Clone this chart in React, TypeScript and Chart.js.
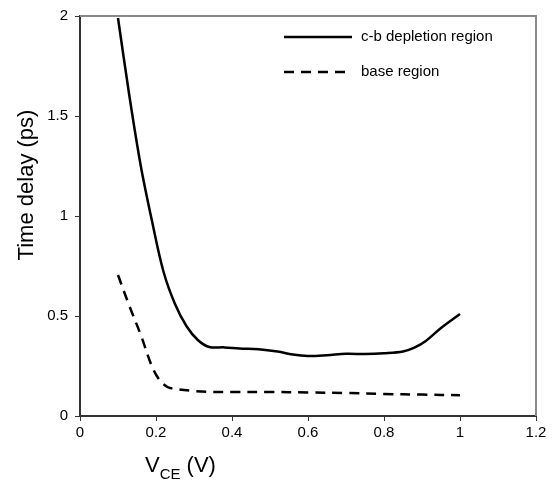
import React, { useEffect, useRef } from "react";
import { Chart, registerables } from "chart.js";

Chart.register(...registerables);

const solidLabel = "c-b depletion region";
const dashedLabel = "base region";
const yTitle = "Time delay (ps)";
const xTitleMain = "V";
const xTitleSub = "CE";
const xTitleUnit = " (V)";

const xSolid = [0.1, 0.13, 0.16, 0.19, 0.22, 0.25, 0.28, 0.31, 0.34, 0.38, 0.42, 0.47, 0.52, 0.56, 0.6, 0.65, 0.7, 0.75, 0.8, 0.85, 0.88, 0.91, 0.95, 1.0];
const ySolid = [1.99, 1.6, 1.25, 0.97, 0.72, 0.56, 0.45, 0.38, 0.345, 0.343, 0.338, 0.334, 0.322, 0.307, 0.3, 0.304, 0.311, 0.31, 0.314, 0.323, 0.342, 0.375, 0.44, 0.51];

const xDashed = [0.1, 0.13, 0.16, 0.19, 0.21, 0.23, 0.25, 0.3, 0.35, 0.4, 0.5, 0.6, 0.7, 0.8, 0.9, 1.0];
const yDashed = [0.705, 0.55, 0.405, 0.245, 0.178, 0.145, 0.135, 0.125, 0.12, 0.12, 0.12, 0.118, 0.115, 0.11, 0.107, 0.104];

const xTicks = [0, 0.2, 0.4, 0.6, 0.8, 1, 1.2];
const yTicks = [0, 0.5, 1, 1.5, 2];

const FONT = "Arial, 'Liberation Sans', sans-serif";

const decor = {
  id: "decor",
  afterDatasetsDraw(chart: any) {
    const ctx = chart.ctx as CanvasRenderingContext2D;
    const ca = chart.chartArea;
    ctx.save();
    ctx.strokeStyle = "#8a8a8a";
    ctx.lineWidth = 2;
    ctx.beginPath();
    ctx.moveTo(ca.left, ca.top);
    ctx.lineTo(ca.right, ca.top);
    ctx.lineTo(ca.right, ca.bottom);
    ctx.stroke();

    const ds = chart.data.datasets;
    const rows = [37, 72];
    ds.forEach((d: any, i: number) => {
      const y = rows[i];
      ctx.strokeStyle = "#000";
      ctx.lineWidth = 2.5;
      ctx.setLineDash(d.borderDash || []);
      ctx.beginPath();
      ctx.moveTo(284, y);
      ctx.lineTo(352, y);
      ctx.stroke();
      ctx.setLineDash([]);
      ctx.fillStyle = "#000";
      ctx.font = `15px ${FONT}`;
      ctx.textAlign = "left";
      ctx.textBaseline = "middle";
      ctx.fillText(d.label, 361, y);
    });

    ctx.save();
    ctx.translate(27, 185);
    ctx.rotate(-Math.PI / 2);
    ctx.font = `22px ${FONT}`;
    ctx.textAlign = "center";
    ctx.textBaseline = "middle";
    ctx.fillStyle = "#000";
    ctx.fillText(yTitle, 0, 0);
    ctx.restore();

    ctx.fillStyle = "#000";
    ctx.textAlign = "left";
    ctx.textBaseline = "alphabetic";
    let x = 145;
    ctx.font = `22px ${FONT}`;
    ctx.fillText(xTitleMain, x, 472);
    x += ctx.measureText(xTitleMain).width;
    ctx.font = `15px ${FONT}`;
    ctx.fillText(xTitleSub, x, 479);
    x += ctx.measureText(xTitleSub).width;
    ctx.font = `22px ${FONT}`;
    ctx.fillText(xTitleUnit, x, 472);
    ctx.restore();
  },
};

export default function App() {
  const ref = useRef<HTMLCanvasElement>(null);
  useEffect(() => {
    if (!ref.current) return;
    const chart = new Chart(ref.current, {
      type: "line",
      data: {
        datasets: [
          {
            label: solidLabel,
            data: xSolid.map((x, i) => ({ x, y: ySolid[i] })),
            borderColor: "#000",
            borderWidth: 2.5,
            pointRadius: 0,
            tension: 0.35,
            fill: false,
          },
          {
            label: dashedLabel,
            data: xDashed.map((x, i) => ({ x, y: yDashed[i] })),
            borderColor: "#000",
            borderWidth: 2.5,
            borderDash: [10, 7],
            pointRadius: 0,
            tension: 0.35,
            fill: false,
          },
        ],
      },
      options: {
        responsive: false,
        animation: false,
        layout: { padding: { left: 0, top: 13, right: 16, bottom: 0 } },
        plugins: { legend: { display: false }, tooltip: { enabled: false } },
        scales: {
          x: {
            type: "linear",
            min: 0,
            max: 1.2,
            afterBuildTicks: (s: any) => {
              s.ticks = xTicks.map((v) => ({ value: v }));
            },
            afterFit: (s: any) => {
              s.height = 66;
            },
            ticks: {
              color: "#000",
              font: { size: 15, family: FONT },
              padding: 3,
              maxRotation: 0,
              callback: (v: any) => String(v),
            },
            grid: { display: true, drawOnChartArea: false, drawTicks: true, tickLength: 5, color: "#333", lineWidth: 1 },
            border: { display: true, color: "#333", width: 2 },
          },
          y: {
            type: "linear",
            min: 0,
            max: 2,
            afterBuildTicks: (s: any) => {
              s.ticks = yTicks.map((v) => ({ value: v }));
            },
            afterFit: (s: any) => {
              s.width = 80;
            },
            ticks: {
              color: "#000",
              font: { size: 15, family: FONT },
              padding: 7,
              callback: (v: any) => String(v),
            },
            grid: { display: true, drawOnChartArea: false, drawTicks: true, tickLength: 5, color: "#333", lineWidth: 1 },
            border: { display: true, color: "#333", width: 2 },
          },
        },
      },
      plugins: [decor],
    } as any);
    return () => chart.destroy();
  }, []);
  return (
    <div style={{ position: "absolute", left: 0, top: 0, width: 552, height: 482, background: "#fff" }}>
      <canvas ref={ref} width={552} height={482} style={{ display: "block" }} />
    </div>
  );
}
